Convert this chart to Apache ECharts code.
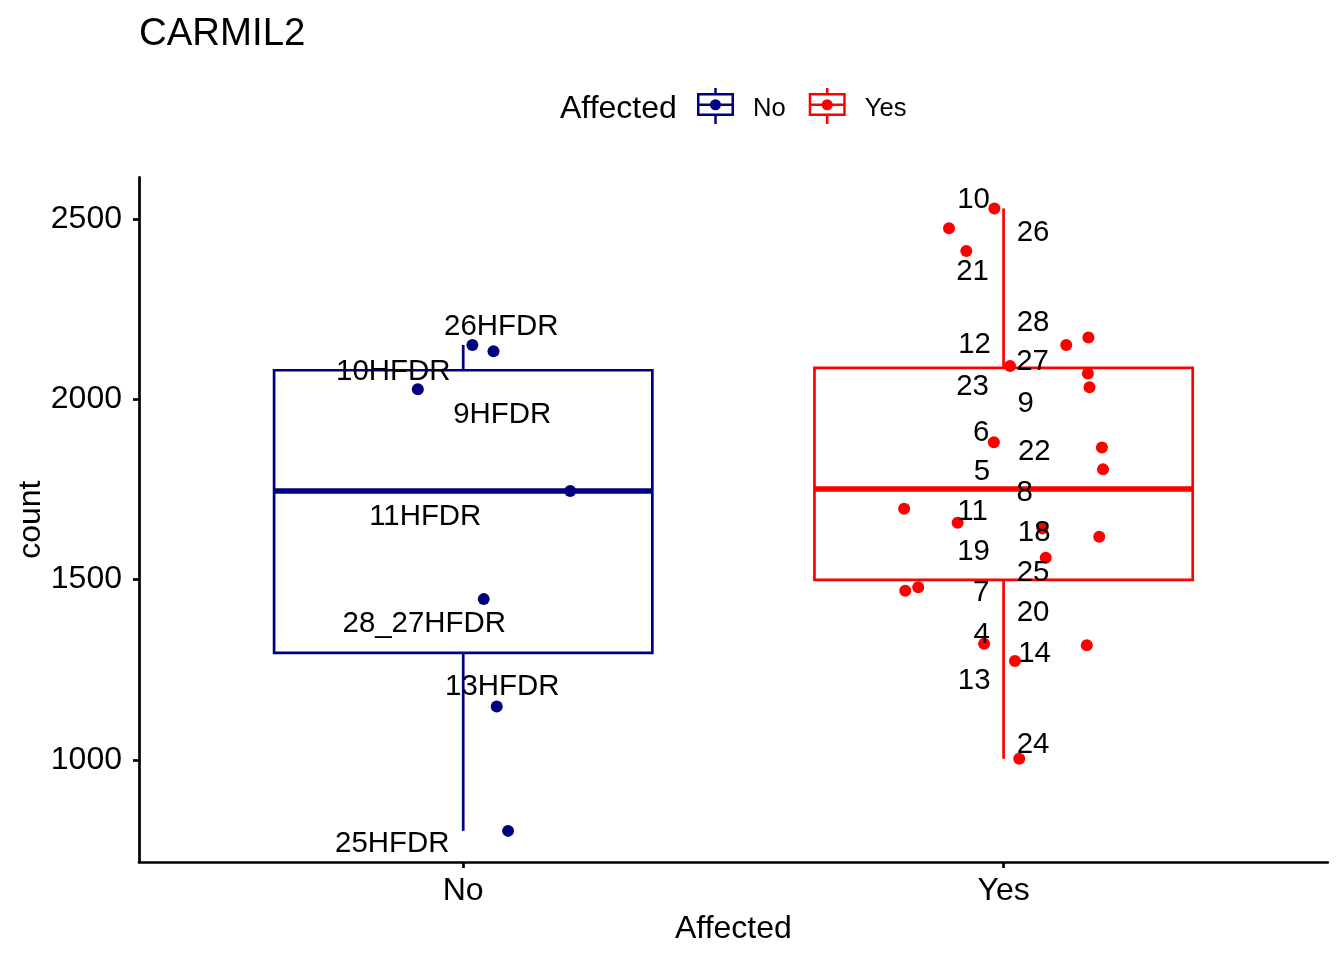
<!DOCTYPE html>
<html><head><meta charset="utf-8">
<script src="https://cdn.jsdelivr.net/npm/echarts@6/dist/echarts.min.js"></script>
<style>html,body{margin:0;padding:0;background:#fff}#chart{width:1344px;height:960px}</style>
</head><body><div id="chart"></div>
<script>
// ---------- data ----------
const groups = ['No', 'Yes'];
const noIds = ['26HFDR', '10HFDR', '9HFDR', '11HFDR', '28_27HFDR', '13HFDR', '25HFDR'];
const noCount = [2151, 2134, 2028, 1746, 1446, 1148, 803];
const noJitterX = [1.017, 1.056, 0.916, 1.198, 1.038, 1.062, 1.083];
const yesIds = ['10', '26', '21', '28', '12', '27', '23', '9', '6', '22', '5', '8', '11', '18', '19', '25', '7', '20', '4', '14', '13', '24'];
const yesCount = [2530, 2475, 2412, 2172, 2151, 2093, 2072, 2034, 1881, 1867, 1806, 1697, 1658, 1642, 1619, 1561, 1479, 1469, 1322, 1318, 1274, 1003];
const yesJitterX = [1.983, 1.899, 1.931, 2.157, 2.116, 2.012, 2.156, 2.159, 1.982, 2.182, 2.184, 1.816, 1.915, 2.072, 2.177, 2.078, 1.842, 1.818, 1.964, 2.154, 2.021, 2.029];
const yTicks = [1000, 1500, 2000, 2500];

// ---------- layout / style (not data) ----------
const colors = ['#000080', '#FF0000'];
const FONT = '"Liberation Sans", Arial, Helvetica, sans-serif';
// label offsets in px, relative to [group position, count]
const noLabelOffset = [[38, -20], [-70, 19], [39, 24], [-38, 24], [-39, 23], [39, -21], [-71, 12]];
const yesLabelOffset = [[-30, -10.5], [29.5, 3], [-31, 19], [29.5, -16], [-29, -1.3], [29, -5.7], [-31, 12], [22, 15.5], [-22.4, -11], [30.7, 2.7], [-21.6, 0.7], [21, -17.5], [-31, -12.7], [30.6, 3.4], [-30, 14], [29.4, 13.6], [-22.3, 4.4], [29.4, 21], [-22, -10.4], [31, 7], [-29.4, 18.7], [29.4, -15.7]];
const LABEL_DY = 1.5;

// ---------- stats (R type-7 quantiles, Tukey whiskers) ----------
function quantile(sorted, p) {
  const h = (sorted.length - 1) * p, lo = Math.floor(h), hi = Math.ceil(h);
  return sorted[lo] + (h - lo) * (sorted[hi] - sorted[lo]);
}
function boxStats(vals) {
  const s = vals.slice().sort((a, b) => a - b);
  const q1 = quantile(s, 0.25), med = quantile(s, 0.5), q3 = quantile(s, 0.75);
  const iqr = q3 - q1;
  const inside = s.filter(v => v >= q1 - 1.5 * iqr && v <= q3 + 1.5 * iqr);
  return [inside[0], q1, med, q3, inside[inside.length - 1]];
}
const boxData = [[1].concat(boxStats(noCount)), [2].concat(boxStats(yesCount))];
const allVals = noCount.concat(yesCount);
const vMin = Math.min.apply(null, allVals), vMax = Math.max.apply(null, allVals);
const yMin = vMin - 0.05 * (vMax - vMin), yMax = vMax + 0.05 * (vMax - vMin);

function renderBox(params, api) {
  const x = api.value(0), lo = api.value(1), q1 = api.value(2), med = api.value(3), q3 = api.value(4), hi = api.value(5);
  const c = colors[params.dataIndex];
  const hw = 0.35, lw = 2.7;
  const pTL = api.coord([x - hw, q3]), pBR = api.coord([x + hw, q1]);
  const pHi = api.coord([x, hi]), pQ3 = api.coord([x, q3]), pQ1 = api.coord([x, q1]), pLo = api.coord([x, lo]);
  const mL = api.coord([x - hw, med]), mR = api.coord([x + hw, med]);
  return {
    type: 'group', children: [
      { type: 'line', shape: { x1: pHi[0], y1: pHi[1], x2: pQ3[0], y2: pQ3[1] }, style: { stroke: c, lineWidth: lw } },
      { type: 'line', shape: { x1: pQ1[0], y1: pQ1[1], x2: pLo[0], y2: pLo[1] }, style: { stroke: c, lineWidth: lw } },
      { type: 'rect', shape: { x: pTL[0], y: pTL[1], width: pBR[0] - pTL[0], height: pBR[1] - pTL[1] }, style: { fill: '#fff', stroke: c, lineWidth: lw } },
      { type: 'line', shape: { x1: mL[0], y1: mL[1], x2: mR[0], y2: mR[1] }, style: { stroke: c, lineWidth: 5.5 } }
    ]
  };
}

function labelSeries(name, gx, counts, ids, offs) {
  return {
    name: name, type: 'scatter', symbolSize: 0, silent: true, z: 5,
    itemStyle: { opacity: 1 },
    emphasis: { disabled: true },
    data: counts.map((v, i) => ({ value: [gx, v], label: { offset: [offs[i][0], offs[i][1] + LABEL_DY] } })),
    label: {
      show: true, position: 'inside', formatter: p => ids[p.dataIndex],
      fontSize: 29.4, color: '#000', opacity: 1, fontFamily: FONT, align: 'center', verticalAlign: 'middle'
    }
  };
}

const legendIcon = 'path://M0,5H37V28H0ZM2.5,7.5V25.5H34.5V7.5ZM2.5,15.5H34.5V18H2.5ZM17.25,0H19.75V5H17.25ZM17.25,28H19.75V36H17.25ZM13,16.75A5.5,5.5,0,1,1,24,16.75A5.5,5.5,0,1,1,13,16.75Z';

const chart = echarts.init(document.getElementById('chart'), null, { renderer: 'canvas' });
chart.setOption({
  animation: false,
  backgroundColor: '#fff',
  title: [
    { text: 'CARMIL2', left: 134, top: 10, textStyle: { fontSize: 38.4, fontWeight: 'normal', color: '#000', fontFamily: FONT } },
    { text: 'Affected', left: 555, top: 88, textStyle: { fontSize: 32, fontWeight: 'normal', color: '#000', fontFamily: FONT } }
  ],
  legend: {
    left: 697, top: 88, padding: 0, itemWidth: 37, itemHeight: 36, itemGap: 23,
    icon: legendIcon,
    data: [{ name: 'No', itemStyle: { color: colors[0], opacity: 1 } }, { name: 'Yes', itemStyle: { color: colors[1], opacity: 1 } }],
    formatter: '{t|{name}}',
    textStyle: {
      fontSize: 25.6, color: '#000', fontFamily: FONT,
      rich: { t: { fontSize: 25.6, color: '#000', fontFamily: FONT, padding: [6, 0, 0, 14] } }
    },
    selectedMode: false
  },
  grid: { left: 139, right: 16.2, top: 177.3, bottom: 98, outerBoundsMode: 'none', containLabel: false },
  xAxis: {
    type: 'value', min: 0.4, max: 2.6,
    name: 'Affected', nameLocation: 'middle', nameGap: 51,
    nameTextStyle: { fontSize: 32, color: '#000', fontFamily: FONT },
    axisLine: { lineStyle: { color: '#000', width: 2.7 } },
    axisTick: { customValues: [1, 2], length: 6, lineStyle: { color: '#000', width: 2.7 } },
    axisLabel: { customValues: [1, 2], formatter: v => groups[Math.round(v) - 1], fontSize: 32, color: '#000', fontFamily: FONT, margin: 13 },
    splitLine: { show: false }
  },
  yAxis: {
    type: 'value', min: yMin, max: yMax,
    name: 'count', nameLocation: 'middle', nameGap: 92, nameMoveOverlap: false,
    nameTextStyle: { fontSize: 32, color: '#000', fontFamily: FONT },
    axisLine: { show: true, lineStyle: { color: '#000', width: 2.7 } },
    axisTick: { show: true, customValues: yTicks, length: 6, lineStyle: { color: '#000', width: 2.7 } },
    axisLabel: { customValues: yTicks, formatter: v => String(Math.round(v)), fontSize: 32, color: '#000', fontFamily: FONT, margin: 17 },
    splitLine: { show: false }
  },
  series: [
    { name: 'box', type: 'custom', renderItem: renderBox, data: boxData, encode: { x: 0, y: [1, 2, 3, 4, 5] }, silent: true, z: 1 },
    { name: 'No', type: 'scatter', symbolSize: 12, itemStyle: { color: colors[0], opacity: 1 }, z: 3,
      data: noCount.map((v, i) => [noJitterX[i], v]) },
    { name: 'Yes', type: 'scatter', symbolSize: 12, itemStyle: { color: colors[1], opacity: 1 }, z: 3,
      data: yesCount.map((v, i) => [yesJitterX[i], v]) },
    labelSeries('No labels', 1, noCount, noIds, noLabelOffset),
    labelSeries('Yes labels', 2, yesCount, yesIds, yesLabelOffset)
  ]
});
</script></body></html>
